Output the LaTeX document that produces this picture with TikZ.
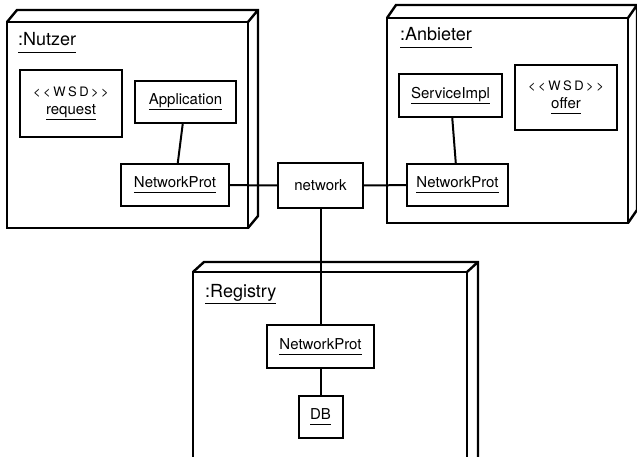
\documentclass[tikz,border=0pt]{standalone}
\usepackage{fontspec}
\setmainfont{TeX Gyre Heros}
\usetikzlibrary{positioning}
\newcommand{\undl}[2][5pt]{\setbox0=\hbox{#2}\rlap{\rule[-#1]{\wd0}{0.8pt}}\box0}
\newcommand{\wsd}{{\fontsize{13}{18}\selectfont{<}\kern2.5pt{<}\kern2.5pt W\kern2.5pt S\kern2.5pt D\kern2.5pt{>}\kern2.5pt{>}}}
\begin{document}
\begin{tikzpicture}[x=1pt, y=-1pt, line join=miter,
  cube/.style={draw, line width=2.4pt, outer sep=0pt, inner sep=0pt, anchor=north west},
  box/.style={draw, line width=2pt, outer sep=0pt, inner sep=0pt, minimum height=42pt, font=\fontsize{15}{18}\selectfont, align=center},
  lbl/.style={anchor=base west, inner sep=0pt, font=\fontsize{18}{21}\selectfont},
  conn/.style={line width=2pt}]
\useasboundingbox (0,0) rectangle (637,457);
\clip (0,0) rectangle (637,457);

% nodes
\node[cube, minimum width=241pt, minimum height=206pt] (nutzer) at (7,22) {};
\node[cube, minimum width=241pt, minimum height=205pt] (anbieter) at (387,18) {};
\node[cube, minimum width=274pt, minimum height=240pt] (registry) at (193,272) {};
\foreach \n/\dx/\dy in {nutzer/10/12, anbieter/9/13, registry/11/10}
  \draw[line width=2.4pt] (\n.north west) -- ++(\dx,-\dy) -- ([shift={(\dx,-\dy)}]\n.north east)
    -- ([shift={(\dx,-\dy)}]\n.south east) -- (\n.south east) (\n.north east) -- ++(\dx,-\dy);

\node[lbl] (lnutzer) at (18,46) {\undl[7pt]{:Nutzer}};
\node[lbl] (lanbieter) at (400,41) {\undl[7pt]{:Anbieter}};
\node[lbl] (lregistry) at (205,297) {\undl[7pt]{:Registry}};

\node[box, minimum width=102pt, minimum height=67pt] (req) at (71,103.5) {\wsd\\\undl{request}};
\node[box, minimum width=101pt] (app) at (185.5,102) {\undl{Application}};
\node[box, minimum width=108pt] (np1) at (175,185) {\undl{NetworkProt}};
\node[box, minimum width=85pt, minimum height=45pt] (net) at (320.5,185.5) {network};
\node[box, minimum width=103pt, minimum height=43pt] (impl) at (450.5,95.5) {\undl{ServiceImpl}};
\node[box, minimum width=102pt, minimum height=65pt] (offer) at (566,97.5) {\wsd\\\undl{offer}};
\node[box, minimum width=101pt] (np2) at (457.5,185) {\undl{NetworkProt}};
\node[box, minimum width=107pt, minimum height=43pt] (np3) at (320.5,346.5) {\undl{NetworkProt}};
\node[box, minimum width=44pt] (db) [below=28pt of np3] {\undl{DB}};

% links
\draw[conn] (app) -- (np1);
\draw[conn] (np1) -- (net);
\draw[conn] (net) -- (np2);
\draw[conn] (net) -- (np3);
\draw[conn] (impl) -- (np2);
\draw[conn] (np3) -- (db);
\end{tikzpicture}
\end{document}
